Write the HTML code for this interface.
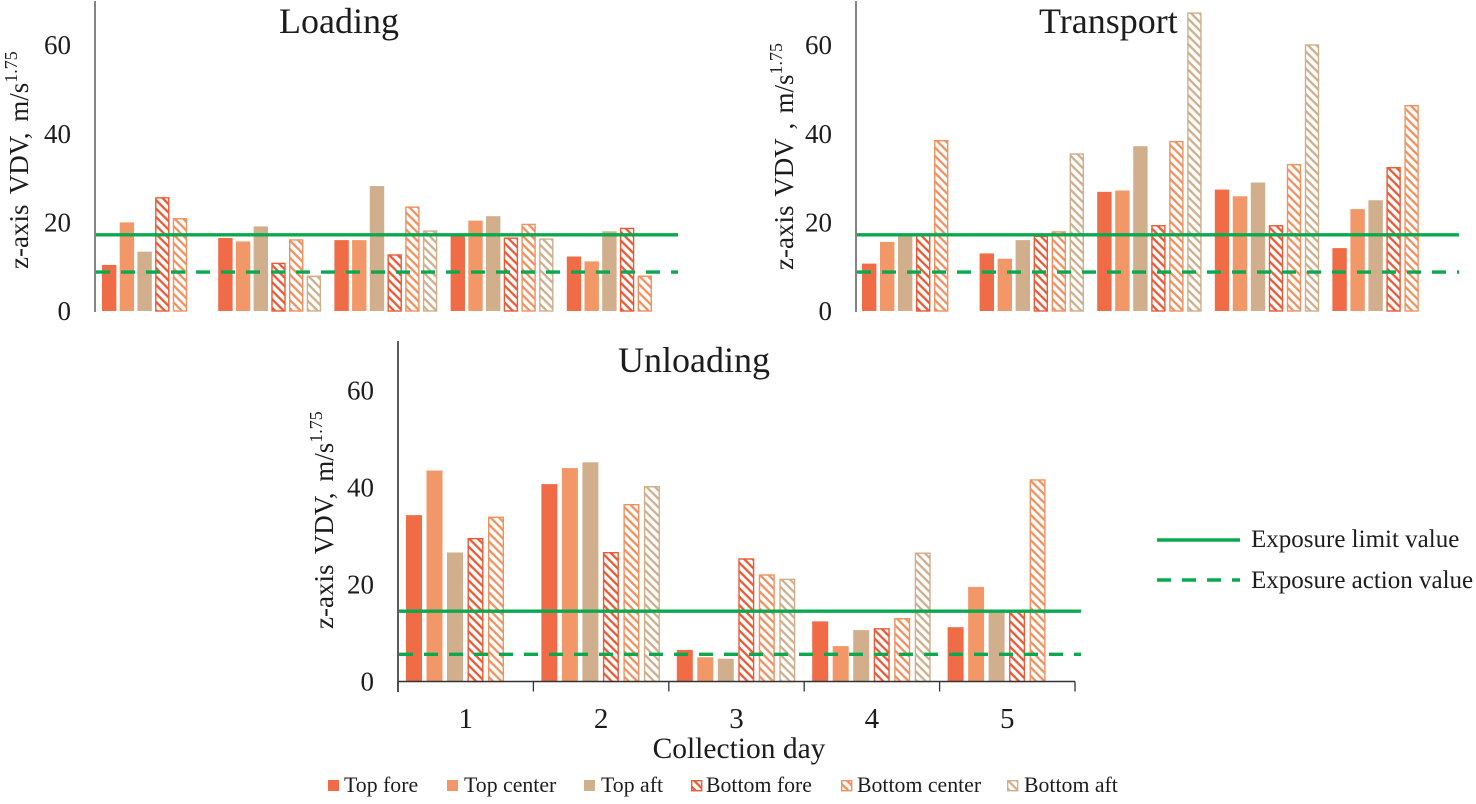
<!DOCTYPE html>
<html lang="en">
<head>
<meta charset="utf-8">
<title>z-axis VDV by collection day</title>
<style>
html,body{margin:0;padding:0;background:#fff;width:1476px;height:804px;overflow:hidden}
svg{display:block;font-family:"Liberation Serif",serif;fill:#1c1c1c;filter:blur(0.35px)}
</style>
</head>
<body>
<svg id="figure" width="1476" height="804" viewBox="0 0 1476 804" xmlns="http://www.w3.org/2000/svg">
  <defs>
    <pattern id="hatch-fore" width="6" height="6" patternUnits="userSpaceOnUse" patternTransform="rotate(45)">
      <rect width="6" height="6" fill="#fff"/><rect width="6" height="2.3" fill="#ea5a36"/>
    </pattern>
    <pattern id="hatch-center" width="6" height="6" patternUnits="userSpaceOnUse" patternTransform="rotate(45)">
      <rect width="6" height="6" fill="#fff"/><rect width="6" height="2.3" fill="#f0915f"/>
    </pattern>
    <pattern id="hatch-aft" width="6" height="6" patternUnits="userSpaceOnUse" patternTransform="rotate(45)">
      <rect width="6" height="6" fill="#fff"/><rect width="6" height="2.3" fill="#cfae8c"/>
    </pattern>
  </defs>

  <g id="panel-loading"></g>
  <g id="panel-transport"></g>
  <g id="panel-unloading"></g>

  <text x="279" y="33" font-size="36">Loading</text>
  <text x="1039" y="33" font-size="36">Transport</text>
  <text x="618" y="372" font-size="36">Unloading</text>

  <text transform="translate(28,269) rotate(-90)" font-size="27" word-spacing="4">z-axis VDV, m/s<tspan font-size="18" dy="-11">1.75</tspan></text>
  <text transform="translate(793,270) rotate(-90)" font-size="27" word-spacing="2.5">z-axis VDV , m/s<tspan font-size="18" dy="-11">1.75</tspan></text>
  <text transform="translate(333,629) rotate(-90)" font-size="27" word-spacing="4">z-axis VDV, m/s<tspan font-size="18" dy="-11">1.75</tspan></text>

  <text x="739" y="758" font-size="29.5" text-anchor="middle">Collection day</text>

  <g font-size="21.8">
    <g><rect x="328" y="780" width="11" height="11" fill="#ef6c47"/><text x="344" y="792">Top fore</text></g>
    <g><rect x="447" y="780" width="11" height="11" fill="#f29868"/><text x="464" y="792">Top center</text></g>
    <g><rect x="584" y="780" width="11" height="11" fill="#d1ae8c"/><text x="601" y="792">Top aft</text></g>
    <g><rect x="691.7" y="780.7" width="10" height="10" fill="url(#hatch-fore)" stroke="#ea5a36" stroke-width="1.4"/><text x="706" y="792">Bottom fore</text></g>
    <g><rect x="841.7" y="780.7" width="10" height="10" fill="url(#hatch-center)" stroke="#f0915f" stroke-width="1.4"/><text x="857" y="792">Bottom center</text></g>
    <g><rect x="1007.7" y="780.7" width="10" height="10" fill="url(#hatch-aft)" stroke="#cfae8c" stroke-width="1.4"/><text x="1024" y="792">Bottom aft</text></g>
  </g>

  <g font-size="25">
    <g><line x1="1157" y1="540" x2="1240" y2="540" stroke="#0aa84f" stroke-width="3.4"/><text x="1251" y="547">Exposure limit value</text></g>
    <g><line x1="1157" y1="580" x2="1240" y2="580" stroke="#0aa84f" stroke-width="3.4" stroke-dasharray="14 11"/><text x="1251" y="588">Exposure action value</text></g>
  </g>
</svg>

<script>
const days = [1, 2, 3, 4, 5];
const yTicks = [0, 20, 40, 60];
const seriesKeys = ['top-fore', 'top-center', 'top-aft', 'bottom-fore', 'bottom-center', 'bottom-aft'];

const loadingTopFore = [10.4, 16.5, 16, 17, 12.3];
const loadingTopCenter = [20, 15.7, 16, 20.4, 11.2];
const loadingTopAft = [13.4, 19.1, 28.2, 21.4, 18];
const loadingBottomFore = [25.7, 10.9, 12.8, 16.6, 18.8];
const loadingBottomCenter = [21, 16.2, 23.6, 19.7, 8];
const loadingBottomAft = [null, 8, 18.2, 16.4, null];
const loadingLimit = 17.2;
const loadingAction = 8.8;

const transportTopFore = [10.7, 13, 26.9, 27.4, 14.2];
const transportTopCenter = [15.6, 11.8, 27.2, 25.9, 23];
const transportTopAft = [17, 16, 37.2, 29, 25];
const transportBottomFore = [17.5, 17, 19.4, 19.4, 32.5];
const transportBottomCenter = [38.6, 18, 38.4, 33.2, 46.5];
const transportBottomAft = [null, 35.6, 67.4, 60.2, null];
const transportLimit = 17.2;
const transportAction = 8.8;

const unloadingTopFore = [34.3, 40.7, 6.5, 12.4, 11.2];
const unloadingTopCenter = [43.5, 44, 5, 7.3, 19.5];
const unloadingTopAft = [26.6, 45.2, 4.7, 10.6, 14.5];
const unloadingBottomFore = [29.6, 26.7, 25.4, 11, 14.7];
const unloadingBottomCenter = [34, 36.6, 22.1, 13.1, 41.7];
const unloadingBottomAft = [null, 40.3, 21.2, 26.6, null];
const unloadingLimit = 14.5;
const unloadingAction = 5.6;

const SVG_NS = 'http://www.w3.org/2000/svg';
const fills = ['#ef6c47', '#f29868', '#d1ae8c', 'url(#hatch-fore)', 'url(#hatch-center)', 'url(#hatch-aft)'];
const strokes = [null, null, null, '#ea5a36', '#f0915f', '#cfae8c'];

function make(tag, attrs, parent, text) {
  const el = document.createElementNS(SVG_NS, tag);
  Object.keys(attrs).forEach(function (k) { el.setAttribute(k, attrs[k]); });
  if (text !== undefined) el.textContent = text;
  parent.appendChild(el);
  return el;
}

function drawPanel(p) {
  const root = document.getElementById(p.id);
  const yScale = function (v) { return p.zeroY - v * p.unitPx; };
  const xScale = function (dayIndex, seriesIndex) { return p.groupStart + dayIndex * p.groupStep + seriesIndex * p.barStep; };

  p.series.forEach(function (values, s) {
    values.forEach(function (v, d) {
      if (v === null) return;
      const hatched = strokes[s] !== null;
      const inset = hatched ? 0.7 : 0;
      const rect = make('rect', {
        x: xScale(d, s) + inset,
        y: yScale(v) + inset,
        width: p.barWidth - 2 * inset,
        height: Math.max(0, p.zeroY - yScale(v) - inset),
        fill: fills[s]
      }, root);
      
      
      if (hatched) {
        rect.setAttribute('stroke', strokes[s]);
        rect.setAttribute('stroke-width', '1.4');
      }
    });
  });

  const limit = make('line', { x1: p.axisX + 1, x2: p.lineEnd, y1: yScale(p.limit), y2: yScale(p.limit), stroke: '#0aa84f', 'stroke-width': 3.4 }, root);
  
  

  const action = make('line', { x1: p.axisX + 1, x2: p.lineEnd, y1: yScale(p.action), y2: yScale(p.action), stroke: '#0aa84f', 'stroke-width': 3.4, 'stroke-dasharray': '14 11' }, root);
  
  

  const yAxis = make('line', { x1: p.axisX, x2: p.axisX, y1: p.axisTop, y2: p.axisBottom, stroke: '#333', 'stroke-width': p.axisWidth }, root);
  
  

  yTicks.forEach(function (t) {
    const label = make('text', { x: p.axisX - 24, y: yScale(t) + 9, 'font-size': 27, 'text-anchor': 'end' }, root, String(t));
    
    
  });

  if (p.showXAxis) {
    const xAxis = make('line', { x1: p.axisX, x2: p.axisX + days.length * p.groupStep, y1: p.zeroY, y2: p.zeroY, stroke: '#333', 'stroke-width': 1.5 }, root);
    
    
    for (let i = 0; i <= days.length; i++) {
      const tx = p.axisX + i * p.groupStep;
      const tick = make('line', { x1: tx, x2: tx, y1: p.zeroY, y2: p.zeroY + 10, stroke: '#333', 'stroke-width': 1.3 }, root);
      
      
    }
    days.forEach(function (day, i) {
      const label = make('text', { x: p.axisX + (i + 0.5) * p.groupStep, y: 728, 'font-size': 29, 'text-anchor': 'middle' }, root, String(day));
      
      
    });
  }
}

drawPanel({
  id: 'panel-loading', name: 'loading', axisX: 95, axisTop: 1, axisBottom: 312, axisWidth: 1.2,
  zeroY: 311, unitPx: 4.43, groupStart: 102, groupStep: 116.2, barStep: 17.7, barWidth: 14.4, lineEnd: 678,
  limit: loadingLimit, action: loadingAction, showXAxis: false,
  series: [loadingTopFore, loadingTopCenter, loadingTopAft, loadingBottomFore, loadingBottomCenter, loadingBottomAft]
});
drawPanel({
  id: 'panel-transport', name: 'transport', axisX: 856, axisTop: 1, axisBottom: 312, axisWidth: 1.2,
  zeroY: 311, unitPx: 4.43, groupStart: 862, groupStep: 117.6, barStep: 18, barWidth: 14.4, lineEnd: 1459,
  limit: transportLimit, action: transportAction, showXAxis: false,
  series: [transportTopFore, transportTopCenter, transportTopAft, transportBottomFore, transportBottomCenter, transportBottomAft]
});
drawPanel({
  id: 'panel-unloading', name: 'unloading', axisX: 398, axisTop: 341, axisBottom: 692, axisWidth: 1.6,
  zeroY: 681.5, unitPx: 4.85, groupStart: 406, groupStep: 135.4, barStep: 20.5, barWidth: 16, lineEnd: 1081,
  limit: unloadingLimit, action: unloadingAction, showXAxis: true,
  series: [unloadingTopFore, unloadingTopCenter, unloadingTopAft, unloadingBottomFore, unloadingBottomCenter, unloadingBottomAft]
});
</script>
</body>
</html>
